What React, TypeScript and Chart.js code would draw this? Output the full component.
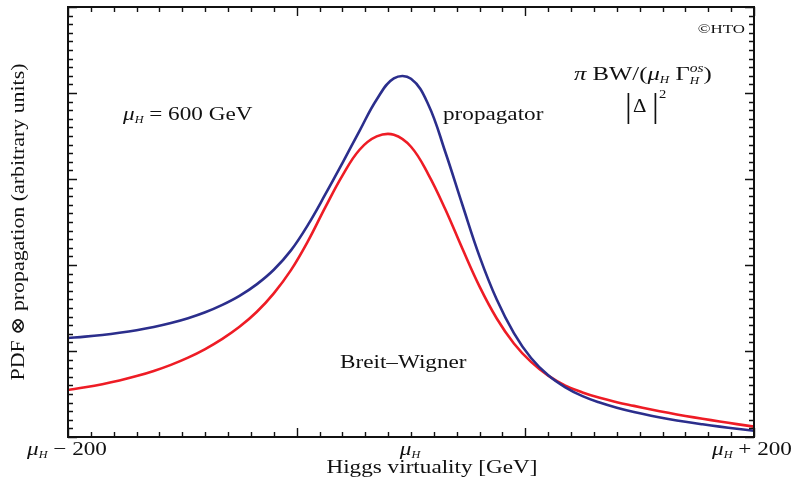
import React, { useEffect, useRef } from "react";
import { Chart, registerables } from "chart.js";

Chart.register(...registerables);

// Higgs virtuality offset from mu_H (GeV), every 10 GeV
const virtuality = [
  -200, -190, -180, -170, -160, -150, -140, -130, -120, -110, -100, -90, -80, -70, -60, -50, -40, -30, -20, -10,
  0, 10, 20, 30, 40, 50, 60, 70, 80, 90, 100, 110, 120, 130, 140, 150, 160, 170, 180, 190, 200,
];
// propagator |Delta|^2 (arbitrary units)
const propagator = [
  1.151, 1.167, 1.187, 1.212, 1.242, 1.279, 1.325, 1.381, 1.45, 1.536, 1.641, 1.775, 1.945, 2.17, 2.47, 2.82, 3.185, 3.56, 3.925, 4.17,
  4.165, 3.87, 3.314, 2.698, 2.098, 1.598, 1.208, 0.918, 0.718, 0.578, 0.475, 0.4, 0.34, 0.29, 0.247, 0.21, 0.177, 0.148, 0.121, 0.096, 0.073,
];
// Breit-Wigner pi BW/(mu_H Gamma_H^os)
const breitWigner = [
  0.547, 0.578, 0.614, 0.657, 0.708, 0.768, 0.839, 0.923, 1.023, 1.141, 1.281, 1.453, 1.67, 1.94, 2.28, 2.67, 3.04, 3.34, 3.495, 3.515,
  3.375, 3.058, 2.648, 2.188, 1.748, 1.378, 1.088, 0.873, 0.713, 0.598, 0.518, 0.455, 0.405, 0.362, 0.32, 0.281, 0.245, 0.212, 0.181, 0.15, 0.12,
];

const xMin = -200;
const xMax = 200;
const yMin = 0;
const yMax = 5;
const xMinorDivisions = 30;
const xMajorEvery = 10;
const yMinorStep = 0.1;
const yMajorEvery = 10;
const xTickLabelValues = [-200, 0, 200];
const xTickLabelSuffix = [" \u2212 200", "", " + 200"];

const BLUE = "#2b2e8c";
const RED = "#ee1c25";
const FAMILY = '"Liberation Serif", "DejaVu Serif", serif';
const STRETCH = 1.22;

type Run = { t: string; size: number; italic?: boolean; dy?: number; keepX?: boolean };

function fontOf(size: number, italic?: boolean) {
  return `${italic ? "italic " : ""}${size}px ${FAMILY}`;
}

function runsWidth(ctx: CanvasRenderingContext2D, runs: Run[]) {
  let w = 0;
  let held = 0;
  for (const r of runs) {
    ctx.font = fontOf(r.size, r.italic);
    const rw = ctx.measureText(r.t).width;
    if (r.keepX) {
      held = Math.max(held, rw);
    } else {
      w += Math.max(rw, held);
      held = 0;
    }
  }
  return w + held;
}

function drawRuns(ctx: CanvasRenderingContext2D, x: number, y: number, runs: Run[], align: "left" | "center" | "right", sx = STRETCH) {
  const total = runsWidth(ctx, runs) * sx;
  const startX = align === "left" ? x : align === "center" ? x - total / 2 : x - total;
  ctx.save();
  ctx.translate(startX, y);
  ctx.scale(sx, 1);
  let cx = 0;
  let held = 0;
  ctx.textAlign = "left";
  ctx.textBaseline = "alphabetic";
  for (const r of runs) {
    ctx.font = fontOf(r.size, r.italic);
    ctx.fillText(r.t, cx, r.dy || 0);
    const rw = ctx.measureText(r.t).width;
    if (r.keepX) {
      held = Math.max(held, rw);
    } else {
      cx += Math.max(rw, held);
      held = 0;
    }
  }
  ctx.restore();
}

const decorPlugin = {
  id: "decor",
  afterDraw(chart: any) {
    const ctx: CanvasRenderingContext2D = chart.ctx;
    const { left, right, top, bottom } = chart.chartArea;
    const xs = chart.scales.x;
    const ys = chart.scales.y;
    ctx.save();
    ctx.fillStyle = "#111";
    ctx.strokeStyle = "#111";

    // ticks (inward, all four sides)
    ctx.lineWidth = 1.4;
    ctx.beginPath();
    for (let i = 0; i <= xMinorDivisions; i++) {
      const v = xMin + (i * (xMax - xMin)) / xMinorDivisions;
      const px = Math.round(xs.getPixelForValue(v)) + 0.5;
      const len = i % xMajorEvery === 0 ? 9 : 5;
      ctx.moveTo(px, bottom);
      ctx.lineTo(px, bottom - len);
      ctx.moveTo(px, top);
      ctx.lineTo(px, top + len);
    }
    const nY = Math.round((yMax - yMin) / yMinorStep);
    for (let i = 0; i <= nY; i++) {
      const v = yMin + i * yMinorStep;
      const py = Math.round(ys.getPixelForValue(v)) + 0.5;
      const len = i % yMajorEvery === 0 ? 9 : 5;
      ctx.moveTo(left, py);
      ctx.lineTo(left + len, py);
      ctx.moveTo(right, py);
      ctx.lineTo(right - len, py);
    }
    ctx.stroke();

    // frame
    ctx.lineWidth = 2;
    ctx.strokeRect(left, top, right - left, bottom - top);

    // x tick labels
    xTickLabelValues.forEach((v, i) => {
      const px = xs.getPixelForValue(v);
      const runs: Run[] = [
        { t: "\u03bc", size: 19, italic: true },
        { t: "H", size: 10, italic: true, dy: 3 },
      ];
      if (xTickLabelSuffix[i]) runs.push({ t: xTickLabelSuffix[i], size: 19 });
      drawRuns(ctx, px + (i === 0 ? -1 : i === 2 ? -2 : -1), bottom + 18, runs, "center");
    });

    // x title
    drawRuns(ctx, 432, 473, [{ t: "Higgs virtuality [GeV]", size: 19 }], "center");

    // y title
    ctx.save();
    ctx.translate(24, 222);
    ctx.rotate(-Math.PI / 2);
    drawRuns(ctx, 0, 0, [{ t: "PDF \u2297 propagation (arbitrary units)", size: 19 }], "center", 1.15);
    ctx.restore();

    // annotations
    drawRuns(ctx, 123, 120, [
      { t: "\u03bc", size: 19, italic: true },
      { t: "H", size: 10, italic: true, dy: 3 },
      { t: " = 600 GeV", size: 19 },
    ], "left");
    drawRuns(ctx, 443, 120, [{ t: "propagator", size: 19 }], "left");
    drawRuns(ctx, 340, 368, [{ t: "Breit\u2013Wigner", size: 19 }], "left");
    drawRuns(ctx, 745, 33, [{ t: "\u00a9HTO", size: 13 }], "right", 1.3);
    drawRuns(ctx, 574, 80, [
      { t: "\u03c0", size: 19, italic: true },
      { t: " BW/(", size: 19 },
      { t: "\u03bc", size: 19, italic: true },
      { t: "H", size: 10, italic: true, dy: 3 },
      { t: " \u0393", size: 19 },
      { t: "os", size: 12, italic: true, dy: -8, keepX: true },
      { t: "H", size: 10, italic: true, dy: 4 },
      { t: ")", size: 19 },
    ], "left", 1.3);
    // |Delta|^2
    ctx.font = fontOf(34);
    ctx.textAlign = "left";
    ctx.fillText("|", 625, 117);
    ctx.fillText("|", 652, 117);
    drawRuns(ctx, 633, 112, [{ t: "\u0394", size: 19 }], "left", 1.1);
    drawRuns(ctx, 659, 98, [{ t: "2", size: 12 }], "left");

    ctx.restore();
  },
};

export default function App() {
  const ref = useRef<HTMLCanvasElement | null>(null);
  useEffect(() => {
    if (!ref.current) return;
    const chart = new Chart(ref.current, {
      type: "line",
      data: {
        datasets: [
          {
            label: "propagator",
            data: virtuality.map((x, i) => ({ x, y: propagator[i] })),
            borderColor: BLUE,
            borderWidth: 2.6,
            pointRadius: 0,
            tension: 0.4,
            fill: false,
          },
          {
            label: "Breit\u2013Wigner",
            data: virtuality.map((x, i) => ({ x, y: breitWigner[i] })),
            borderColor: RED,
            borderWidth: 2.6,
            pointRadius: 0,
            tension: 0.4,
            fill: false,
          },
        ],
      },
      options: {
        responsive: false,
        animation: false,
        events: [],
        layout: { padding: { left: 68, right: 42, top: 7, bottom: 42 } },
        plugins: { legend: { display: false }, tooltip: { enabled: false } },
        scales: {
          x: { type: "linear", min: xMin, max: xMax, display: false },
          y: { type: "linear", min: yMin, max: yMax, display: false },
        },
      },
      plugins: [decorPlugin],
    });
    return () => chart.destroy();
  }, []);
  return (
    <div style={{ position: "fixed", left: 0, top: 0, width: 796, height: 479, background: "#fff" }}>
      <canvas ref={ref} width={796} height={479} style={{ width: 796, height: 479, display: "block" }} />
    </div>
  );
}
